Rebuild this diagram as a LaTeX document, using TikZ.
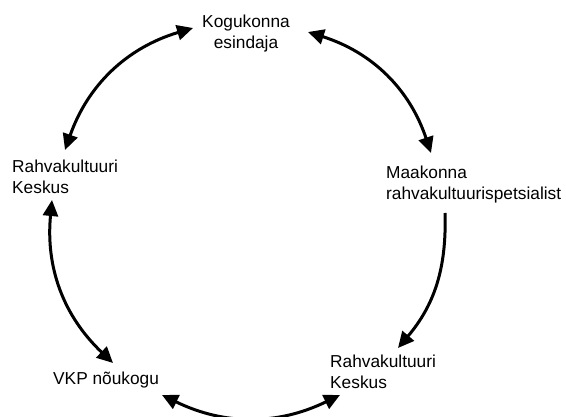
\documentclass[tikz,border=0pt]{standalone}
\usepackage{fontspec}
\setmainfont{Liberation Sans}
\usetikzlibrary{arrows.meta}
\begin{document}
\begin{tikzpicture}[x=1pt,y=1pt,
    every node/.style={inner sep=0pt,font=\fontsize{17.3}{21}\selectfont},
    link/.style={line width=3pt,>={Triangle[length=16pt,width=15pt]}}]
    \useasboundingbox (0,0) rectangle (566,416);
                \node[align=center] (kog) at (246,382) {Kogukonna\\esindaja};
                \node[anchor=west,align=left] (mk) at (386,231) {Maakonna\\rahvakultuurispetsialist};
                \node[anchor=west,align=left] (rkR) at (330,44) {Rahvakultuuri\\Keskus};
                \node[anchor=west] (vkp) at (53,36) {VKP nõukogu};
                \node[anchor=west,align=left] (rkL) at (12,239) {Rahvakultuuri\\Keskus};
                % arc ends
                \coordinate (kogW) at (193,388);
                \coordinate (rkLN) at (65,266);
                \coordinate (kogE) at (308,384);
                \coordinate (mkN) at (431,263);
                \coordinate (mkS) at (445,203);
                \coordinate (rkRN) at (398,68);
                \coordinate (vkpE) at (162,21);
                \coordinate (rkRW) at (340,21);
                \coordinate (rkLS) at (52,216);
                \coordinate (vkpN) at (113,53);
                \draw[link,<->] (kogW) to [bend right=27] (rkLN);
                \draw[link,<->] (kogE) to [bend left=27] (mkN);
                \draw[link,->] (mkS) to [bend left=21] (rkRN);
                \draw[link,<->] (vkpE) to [bend right=26] (rkRW);
                \draw[link,<->] (rkLS) to [bend right=26] (vkpN);
            \end{tikzpicture}
\end{document}
